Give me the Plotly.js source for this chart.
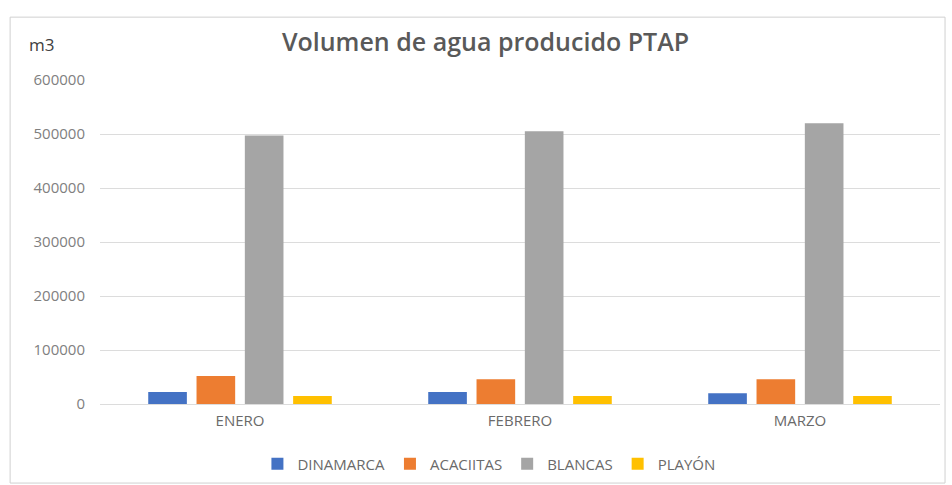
<!DOCTYPE html>
<html>
<head>
<meta charset="utf-8">
<script src="https://cdn.plot.ly/plotly-3.0.1.min.js"></script>
<style>html,body{margin:0;padding:0;background:#fff;}#chart{width:952px;height:485px;}</style>
</head>
<body>
<div id="chart"></div>
<script>
const months = ["ENERO", "FEBRERO", "MARZO"];
const dinamarca = [22000, 22000, 20000];
const acaciitas = [52000, 46000, 46000];
const blancas = [497000, 505000, 520000];
const playon = [15000, 15000, 15000];
const seriesNames = ["DINAMARCA", "ACACIITAS", "BLANCAS", "PLAYÓN"];
const colors = ["#4472C4", "#ED7D31", "#A5A5A5", "#FFC000"];
const yTicks = [0, 100000, 200000, 300000, 400000, 500000, 600000];

const vals = [dinamarca, acaciitas, blancas, playon];
const traces = vals.map((v, i) => ({
  type: "bar", x: months, y: v, name: seriesNames[i],
  marker: {color: colors[i]}, hoverinfo: "x+y+name"
}));

const FONT = "'Open Sans', Lato, sans-serif";
const layout = {
  width: 952, height: 485,
  paper_bgcolor: "#fff", plot_bgcolor: "#fff",
  font: {family: FONT, color: "#7f7f7f", size: 12},
  margin: {l: 100, r: 12, t: 80, b: 81, autoexpand: false},
  barmode: "group", bargap: 0.31, bargroupgap: 0.2,
  title: {text: "Volumen de agua producido PTAP", x: 0.51, xanchor: "center", y: 0.912, yanchor: "middle",
          font: {size: 25, weight: 600, color: "#595959", family: FONT}},
  xaxis: {showgrid: false, showline: false, ticks: "", tickfont: {size: 15, color: "#6a6a6a"}, ticklabelstandoff: 6},
  yaxis: {range: [0, 600000], tickvals: yTicks, ticktext: yTicks.map(String),
          gridcolor: "#dcdcdc", gridwidth: 1, zeroline: true, zerolinecolor: "#dcdcdc", zerolinewidth: 1,
          showline: false, ticks: "", tickfont: {size: 15, color: "#808080"}, ticklabelstandoff: 14},
  legend: {orientation: "h", x: 0.463, xanchor: "center", y: -0.185, yanchor: "middle",
           font: {size: 15, color: "#6a6a6a"}, itemwidth: 30, traceorder: "normal"},
  annotations: [{text: "m3", xref: "paper", yref: "paper", x: -0.07, y: 1.11, xanchor: "center", yanchor: "middle",
                 showarrow: false, font: {size: 17, color: "#404040", family: FONT}}],
  shapes: [{type: "rect", xref: "paper", yref: "paper", x0: -0.107, x1: 1.006, y0: -0.244, y1: 1.194,
            line: {color: "#d0d0d0", width: 1}, fillcolor: "rgba(0,0,0,0)", layer: "below"}]
};
Plotly.newPlot("chart", traces, layout, {displayModeBar: false, staticPlot: true});
</script>
</body>
</html>
